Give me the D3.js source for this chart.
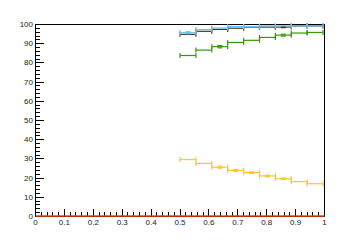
<!DOCTYPE html>
<html>
<head>
<meta charset="utf-8">
<script src="https://cdn.jsdelivr.net/npm/d3@7"></script>
<style>
  body { margin: 0; background: #fff; }
  text { font-family: "Liberation Sans", Arial, sans-serif; font-size: 8px; fill: #222; }
</style>
</head>
<body>
<div class="chart"></div>
<script>
var width = 360,
    height = 240;

// bins (lower edges), width 0.055
var binLow = [0.50, 0.555, 0.61, 0.665, 0.72, 0.775, 0.83, 0.885, 0.94];
var binWidth = 0.055;

var blueVals   = [95.5, 97.1, 97.9, 98.7, 98.6, 99.0, 99.0, 99.0, 99.0];
var blueErr    = [0.5, 0, 0, 0, 0, 0, 0, 0, 0];
var brownVals  = [94.6, 96.2, 97.2, 97.8, 98.4, 98.4, 98.4, 99.0, 99.0];
var brownErr   = [0, 0, 0, 0, 0, 0, 0.3, 0, 0];
var greenVals  = [83.6, 86.4, 88.2, 90.4, 91.5, 93.0, 94.2, 95.3, 95.6];
var greenErr   = [0, 0, 0.6, 0, 0, 0, 0.5, 0, 0];
var yellowVals = [29.4, 27.4, 25.4, 23.7, 22.6, 20.9, 19.4, 17.9, 16.8];
var yellowErr  = [0, 0, 0.5, 0.5, 0.4, 0.4, 0.4, 0, 0];

// red histogram: all zero over full range
var redLow = d3.range(0, 1, 0.05);
var redVals = redLow.map(function() { return 0; });

var xTicks = [0, 0.1, 0.2, 0.3, 0.4, 0.5, 0.6, 0.7, 0.8, 0.9, 1];
var yTicks = [0, 10, 20, 30, 40, 50, 60, 70, 80, 90, 100];

var x = d3.scaleLinear().domain([0, 1]).range([35.5, 324.5]);
var y = d3.scaleLinear().domain([0, 100]).range([216, 24]);

var svg = d3.select(".chart").append("svg")
    .attr("width", width)
    .attr("height", height);

// frame
svg.append("rect")
    .attr("x", x(0)).attr("y", y(100) + 0.5)
    .attr("width", x(1) - x(0)).attr("height", y(0) - y(100))
    .attr("fill", "none").attr("stroke", "#000").attr("stroke-width", 1)
    .attr("shape-rendering", "crispEdges");

// y ticks (inward to the right)
var g = svg.append("g").attr("shape-rendering", "crispEdges");
d3.range(0, 101, 2).forEach(function(v) {
  var major = v % 10 === 0;
  g.append("line")
    .attr("x1", x(0)).attr("x2", x(0) + (major ? 8 : 4))
    .attr("y1", Math.round(y(v)) + 0.5).attr("y2", Math.round(y(v)) + 0.5)
    .attr("stroke", "#000");
});
svg.selectAll(".ylab").data(yTicks).enter().append("text")
    .attr("class", "ylab")
    .attr("x", 33)
    .attr("y", function(d) { return y(d) + 3; })
    .attr("text-anchor", "end")
    .text(function(d) { return d; });

// x ticks (upward)
d3.range(0, 51).forEach(function(i) {
  var v = i * 0.02;
  var major = i % 5 === 0;
  g.append("line")
    .attr("x1", Math.round(x(v) - 0.5) + 0.5).attr("x2", Math.round(x(v) - 0.5) + 0.5)
    .attr("y1", y(0)).attr("y2", y(0) - (major ? 7 : 4))
    .attr("stroke", "#000");
});
svg.selectAll(".xlab").data(xTicks).enter().append("text")
    .attr("class", "xlab")
    .attr("x", function(d) { return x(d); })
    .attr("y", 225)
    .attr("text-anchor", "middle")
    .text(function(d) { return d; });

// histogram with error bars
function drawHist(low, w, vals, errs, color, sw) {
  var h = svg.append("g").attr("stroke", color).attr("stroke-width", sw).attr("fill", "none");
  vals.forEach(function(v, i) {
    var x0 = x(low[i]), x1 = x(low[i] + w), yy = y(v);
    h.append("line").attr("x1", x0).attr("x2", x1).attr("y1", yy).attr("y2", yy);
    h.append("line").attr("x1", x0).attr("x2", x0).attr("y1", yy - 2.5).attr("y2", yy + 2.5);
    h.append("line").attr("x1", x1).attr("x2", x1).attr("y1", yy - 2.5).attr("y2", yy + 2.5);
    var e = errs ? errs[i] : 0;
    if (e > 0) {
      var xc = (x0 + x1) / 2;
      h.append("line").attr("x1", xc - 2.5).attr("x2", xc + 2.5).attr("y1", y(v + e)).attr("y2", y(v + e));
      h.append("line").attr("x1", xc - 2.5).attr("x2", xc + 2.5).attr("y1", y(v - e)).attr("y2", y(v - e));
    }
  });
}

drawHist(binLow, binWidth, yellowVals, yellowErr, "#fcc72c", 1.2);
drawHist(binLow, binWidth, greenVals, greenErr, "#349a00", 1.2);
drawHist(binLow, binWidth, brownVals, brownErr, "#5a3208", 1.2);
drawHist(binLow, binWidth, blueVals, blueErr, "#62c6fb", 1.2);

// red zero line over full range
var r = svg.append("g").attr("stroke", "#ff3c00").attr("stroke-width", 1.5);
redVals.forEach(function(v, i) {
  r.append("line")
    .attr("x1", x(redLow[i])).attr("x2", x(redLow[i] + 0.05))
    .attr("y1", y(v)).attr("y2", y(v));
});
</script>
</body>
</html>
